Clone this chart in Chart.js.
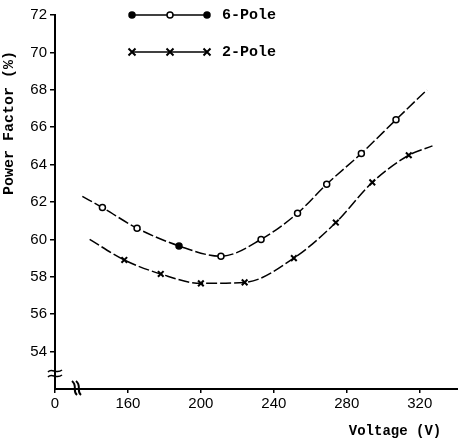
<!DOCTYPE html>
<html>
<head>
<meta charset="utf-8">
<script src="https://cdn.jsdelivr.net/npm/chart.js@4"></script>
<style>
  html, body { margin: 0; padding: 0; background: #fff; }
  canvas { display: block; }
</style>
</head>
<body>
<canvas id="chart" width="458" height="440"></canvas>
<script>
// 6-Pole curve (first and last entries are the ends of the drawn line, no marker)
var sixPoleV  = [135, 146, 165, 188, 211, 233, 253, 269, 288, 307, 324];
var sixPolePF = [62.3, 61.7, 60.6, 59.65, 59.1, 60.0, 61.4, 62.95, 64.6, 66.4, 68.0];
var sixPoleFilled = [false, false, false, true, false, false, false, false, false, false, false];

// 2-Pole curve
var twoPoleV  = [139, 158, 178, 200, 224, 251, 274, 294, 314, 327];
var twoPolePF = [60.0, 58.9, 58.15, 57.65, 57.7, 59.0, 60.9, 63.05, 64.5, 65.0];

var xTicks = [120, 160, 200, 240, 280, 320];
var xTickText = ["0", "160", "200", "240", "280", "320"];

var monoFont = "'Liberation Mono', 'DejaVu Sans Mono', monospace";
var sansFont = "'Liberation Sans', 'DejaVu Sans', sans-serif";

function toPoints(xs, ys)
{
	let pts = [];
	for (let i = 0; i < xs.length; i++)
	{
		pts.push({x: xs[i], y: ys[i]});
	}
	return pts;
}

function endRadius(n, r)
{
	let radii = [];
	for (let i = 0; i < n; i++)
	{
		radii.push(i == 0 || i == n - 1 ? 0 : r);
	}
	return radii;
}

// legend and axis break marks drawn by hand
var decorPlugin = {
	id: "decor",
	afterDraw: function(chart)
	{
		let ctx = chart.ctx;
		let area = chart.chartArea;
		ctx.save();
		ctx.strokeStyle = "#000";
		ctx.fillStyle = "#000";

		// legend
		let lx0 = area.left + 77, lx1 = area.left + 115, lx2 = area.left + 152;
		let rows = [area.top, area.top + 37];
		ctx.lineWidth = 1.5;
		for (let r = 0; r < 2; r++)
		{
			ctx.beginPath();
			ctx.moveTo(lx0, rows[r]);
			ctx.lineTo(lx2, rows[r]);
			ctx.stroke();
		}
		// 6-pole symbols
		[lx0, lx1, lx2].forEach(function(x, i)
		{
			ctx.beginPath();
			ctx.arc(x, rows[0], 3, 0, Math.PI * 2);
			ctx.fillStyle = i == 1 ? "#fff" : "#000";
			ctx.fill();
			ctx.stroke();
		});
		// 2-pole symbols
		ctx.lineWidth = 2;
		[lx0, lx1, lx2].forEach(function(x)
		{
			ctx.beginPath();
			ctx.moveTo(x - 3.5, rows[1] - 3.5);
			ctx.lineTo(x + 3.5, rows[1] + 3.5);
			ctx.moveTo(x - 3.5, rows[1] + 3.5);
			ctx.lineTo(x + 3.5, rows[1] - 3.5);
			ctx.stroke();
		});
		ctx.fillStyle = "#000";
		ctx.font = "bold 15px " + monoFont;
		ctx.textBaseline = "middle";
		ctx.fillText("6-Pole", lx2 + 15, rows[0]);
		ctx.fillText("2-Pole", lx2 + 15, rows[1]);

		// y axis break
		let ax = area.left;
		let by = area.bottom - 18;
		ctx.lineWidth = 1.5;
		for (let k = 0; k < 2; k++)
		{
			let yy = by + k * 5;
			ctx.beginPath();
			ctx.moveTo(ax - 7, yy + 1);
			ctx.bezierCurveTo(ax - 3, yy - 4, ax + 1, yy + 4, ax + 7, yy - 1);
			ctx.stroke();
		}

		// x axis break
		let bx = ax + 20;
		let bb = area.bottom;
		ctx.lineWidth = 2;
		for (let k = 0; k < 2; k++)
		{
			let xx = bx + k * 4;
			ctx.beginPath();
			ctx.moveTo(xx - 3, bb - 8);
			ctx.bezierCurveTo(xx + 3, bb - 3, xx - 3, bb + 2, xx + 2, bb + 6);
			ctx.stroke();
		}
		ctx.restore();
	}
};

var chart = new Chart(document.getElementById("chart"),
{
	type: "line",
	data:
	{
		datasets:
		[{
			label: "6-Pole",
			data: toPoints(sixPoleV, sixPolePF),
			borderColor: "#000",
			borderWidth: 1.5,
			borderDash: [11, 3],
			cubicInterpolationMode: "monotone",
			pointStyle: "circle",
			pointRadius: endRadius(sixPoleV.length, 3),
			pointBorderWidth: 1.5,
			pointBorderColor: "#000",
			pointBackgroundColor: sixPoleFilled.map(function(f) { return f ? "#000" : "#fff"; }),
			fill: false
		},
		{
			label: "2-Pole",
			data: toPoints(twoPoleV, twoPolePF),
			borderColor: "#000",
			borderWidth: 1.5,
			borderDash: [11, 3],
			cubicInterpolationMode: "monotone",
			pointStyle: "crossRot",
			pointRadius: endRadius(twoPoleV.length, 4),
			pointBorderWidth: 2,
			pointBorderColor: "#000",
			fill: false
		}]
	},
	options:
	{
		responsive: false,
		animation: false,
		layout: { padding: { top: 15, right: 0, left: 0, bottom: 0 } },
		plugins:
		{
			legend: { display: false },
			tooltip: { enabled: false }
		},
		scales:
		{
			x:
			{
				type: "linear",
				min: 120,
				max: 341,
				afterFit: function(scale) { scale.height = 51; },
				afterBuildTicks: function(scale)
				{
					scale.ticks = xTicks.map(function(v) { return {value: v}; });
				},
				ticks:
				{
					color: "#000",
					font: { family: sansFont, size: 15 },
					padding: 2,
					maxRotation: 0,
					callback: function(v)
					{
						let i = xTicks.indexOf(v);
						return i >= 0 ? xTickText[i] : null;
					}
				},
				grid: { drawOnChartArea: false, drawTicks: true, tickLength: 4, color: "#000", lineWidth: 1.5 },
				border: { display: true, color: "#000", width: 2 },
				title:
				{
					display: true,
					text: "Voltage (V)  ",
					align: "end",
					color: "#000",
					font: { family: monoFont, size: 14, weight: "bold" },
					padding: { top: 4, bottom: 0 }
				}
			},
			y:
			{
				min: 52,
				max: 72,
				afterFit: function(scale) { scale.width = 55; },
				ticks:
				{
					stepSize: 2,
					color: "#000",
					font: { family: sansFont, size: 15 },
					padding: 3,
					callback: function(v) { return v == 52 ? null : String(v); }
				},
				grid: { drawOnChartArea: false, drawTicks: true, tickLength: 5, color: "#000", lineWidth: 1.5 },
				border: { display: true, color: "#000", width: 2 },
				title:
				{
					display: true,
					text: "Power Factor (%)    ",
					align: "end",
					color: "#000",
					font: { family: monoFont, size: 15, weight: "bold" },
					padding: { top: 0, bottom: 0 }
				}
			}
		}
	},
	plugins: [decorPlugin]
});
</script>
</body>
</html>
